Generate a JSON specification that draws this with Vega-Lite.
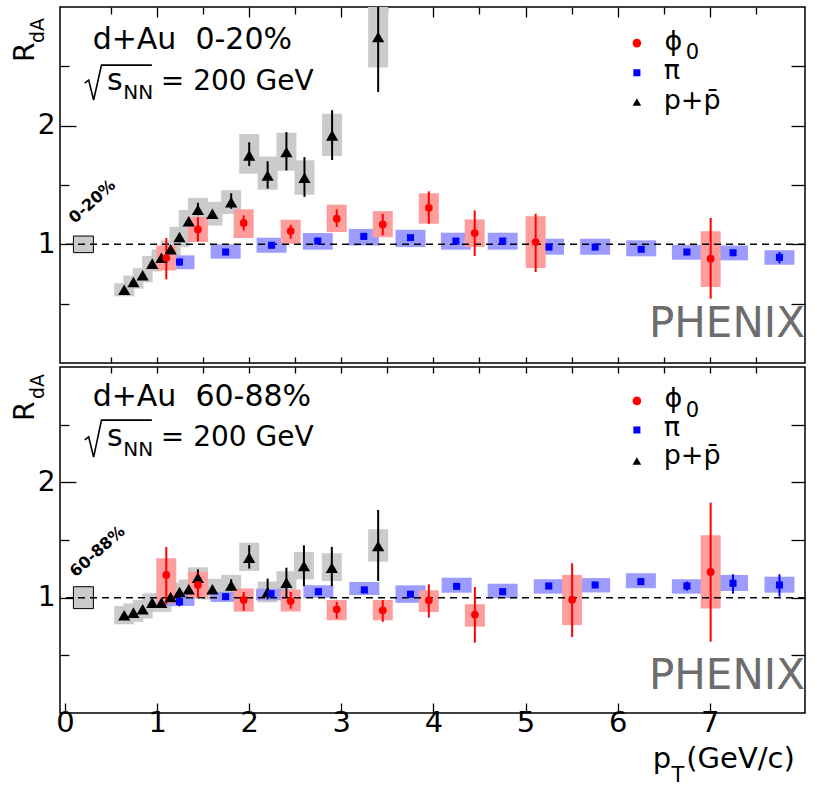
{
 "$schema": "https://vega.github.io/schema/vega-lite/v6.json",
 "padding": {"left": 11, "top": 5, "right": 6, "bottom": 2},
 "spacing": 0,
 "config": {
  "font": "DejaVu Sans",
  "view": {"stroke": "#000", "strokeWidth": 1.5},
  "axis": {"grid": false, "domain": false, "tickColor": "#000", "tickWidth": 1.3, "labelColor": "#000", "labelFont": "DejaVu Sans", "labelFontSize": 28, "title": null, "labelOverlap": false, "labelFlush": false}
 },
 "datasets": {
  "pts": [
   {"panel":"top","species":"ppbar","pt":0.643,"r":0.617,"stat_lo":0.605,"stat_hi":0.63,"sys_lo":0.562,"sys_hi":0.672},
   {"panel":"top","species":"ppbar","pt":0.743,"r":0.682,"stat_lo":0.67,"stat_hi":0.695,"sys_lo":0.627,"sys_hi":0.737},
   {"panel":"top","species":"ppbar","pt":0.843,"r":0.739,"stat_lo":0.727,"stat_hi":0.752,"sys_lo":0.679,"sys_hi":0.799},
   {"panel":"top","species":"ppbar","pt":0.947,"r":0.837,"stat_lo":0.825,"stat_hi":0.85,"sys_lo":0.772,"sys_hi":0.902},
   {"panel":"top","species":"ppbar","pt":1.047,"r":0.887,"stat_lo":0.873,"stat_hi":0.9,"sys_lo":0.817,"sys_hi":0.957},
   {"panel":"top","species":"ppbar","pt":1.147,"r":0.958,"stat_lo":0.944,"stat_hi":0.972,"sys_lo":0.883,"sys_hi":1.033},
   {"panel":"top","species":"ppbar","pt":1.243,"r":1.062,"stat_lo":1.046,"stat_hi":1.078,"sys_lo":0.977,"sys_hi":1.147},
   {"panel":"top","species":"ppbar","pt":1.343,"r":1.194,"stat_lo":1.176,"stat_hi":1.212,"sys_lo":1.099,"sys_hi":1.289},
   {"panel":"top","species":"ppbar","pt":1.443,"r":1.292,"stat_lo":1.245,"stat_hi":1.35,"sys_lo":1.192,"sys_hi":1.392},
   {"panel":"top","species":"ppbar","pt":1.6,"r":1.258,"stat_lo":1.235,"stat_hi":1.28,"sys_lo":1.158,"sys_hi":1.358},
   {"panel":"top","species":"ppbar","pt":1.804,"r":1.356,"stat_lo":1.3,"stat_hi":1.43,"sys_lo":1.256,"sys_hi":1.456},
   {"panel":"top","species":"ppbar","pt":2.0,"r":1.75,"stat_lo":1.66,"stat_hi":1.86,"sys_lo":1.595,"sys_hi":1.93},
   {"panel":"top","species":"ppbar","pt":2.2,"r":1.58,"stat_lo":1.47,"stat_hi":1.7,"sys_lo":1.46,"sys_hi":1.74},
   {"panel":"top","species":"ppbar","pt":2.404,"r":1.778,"stat_lo":1.623,"stat_hi":1.946,"sys_lo":1.62,"sys_hi":1.94},
   {"panel":"top","species":"ppbar","pt":2.6,"r":1.561,"stat_lo":1.4,"stat_hi":1.735,"sys_lo":1.418,"sys_hi":1.708},
   {"panel":"top","species":"ppbar","pt":2.9,"r":1.918,"stat_lo":1.71,"stat_hi":2.13,"sys_lo":1.744,"sys_hi":2.1},
   {"panel":"top","species":"ppbar","pt":3.4,"r":2.747,"stat_lo":2.283,"stat_hi":3.0,"sys_lo":2.49,"sys_hi":3.0},
   {"panel":"top","species":"pi0","pt":1.243,"r":0.851,"stat_lo":0.82,"stat_hi":0.88,"sys_lo":0.79,"sys_hi":0.907},
   {"panel":"top","species":"pi0","pt":1.744,"r":0.935,"stat_lo":0.92,"stat_hi":0.95,"sys_lo":0.879,"sys_hi":1.0},
   {"panel":"top","species":"pi0","pt":2.243,"r":0.992,"stat_lo":0.98,"stat_hi":1.005,"sys_lo":0.929,"sys_hi":1.056},
   {"panel":"top","species":"pi0","pt":2.744,"r":1.028,"stat_lo":1.015,"stat_hi":1.04,"sys_lo":0.955,"sys_hi":1.095},
   {"panel":"top","species":"pi0","pt":3.244,"r":1.067,"stat_lo":1.055,"stat_hi":1.08,"sys_lo":0.99,"sys_hi":1.13},
   {"panel":"top","species":"pi0","pt":3.751,"r":1.056,"stat_lo":1.044,"stat_hi":1.068,"sys_lo":0.977,"sys_hi":1.123},
   {"panel":"top","species":"pi0","pt":4.244,"r":1.028,"stat_lo":1.016,"stat_hi":1.04,"sys_lo":0.955,"sys_hi":1.098},
   {"panel":"top","species":"pi0","pt":4.752,"r":1.028,"stat_lo":1.016,"stat_hi":1.04,"sys_lo":0.955,"sys_hi":1.098},
   {"panel":"top","species":"pi0","pt":5.255,"r":0.977,"stat_lo":0.963,"stat_hi":0.99,"sys_lo":0.912,"sys_hi":1.047},
   {"panel":"top","species":"pi0","pt":5.756,"r":0.977,"stat_lo":0.963,"stat_hi":0.992,"sys_lo":0.912,"sys_hi":1.047},
   {"panel":"top","species":"pi0","pt":6.256,"r":0.958,"stat_lo":0.943,"stat_hi":0.973,"sys_lo":0.899,"sys_hi":1.034},
   {"panel":"top","species":"pi0","pt":6.752,"r":0.935,"stat_lo":0.915,"stat_hi":0.955,"sys_lo":0.87,"sys_hi":0.995},
   {"panel":"top","species":"pi0","pt":7.253,"r":0.929,"stat_lo":0.905,"stat_hi":0.953,"sys_lo":0.865,"sys_hi":0.99},
   {"panel":"top","species":"pi0","pt":7.757,"r":0.89,"stat_lo":0.84,"stat_hi":0.935,"sys_lo":0.828,"sys_hi":0.95},
   {"panel":"top","species":"phi","pt":1.1,"r":0.885,"stat_lo":0.705,"stat_hi":1.053,"sys_lo":0.78,"sys_hi":0.99},
   {"panel":"top","species":"phi","pt":1.443,"r":1.126,"stat_lo":1.025,"stat_hi":1.23,"sys_lo":1.02,"sys_hi":1.23},
   {"panel":"top","species":"phi","pt":1.94,"r":1.18,"stat_lo":1.118,"stat_hi":1.244,"sys_lo":1.053,"sys_hi":1.295},
   {"panel":"top","species":"phi","pt":2.45,"r":1.112,"stat_lo":1.047,"stat_hi":1.165,"sys_lo":1.005,"sys_hi":1.207},
   {"panel":"top","species":"phi","pt":2.95,"r":1.216,"stat_lo":1.146,"stat_hi":1.295,"sys_lo":1.104,"sys_hi":1.334},
   {"panel":"top","species":"phi","pt":3.45,"r":1.168,"stat_lo":1.076,"stat_hi":1.258,"sys_lo":1.06,"sys_hi":1.28},
   {"panel":"top","species":"phi","pt":3.95,"r":1.308,"stat_lo":1.174,"stat_hi":1.447,"sys_lo":1.174,"sys_hi":1.43},
   {"panel":"top","species":"phi","pt":4.448,"r":1.095,"stat_lo":0.901,"stat_hi":1.286,"sys_lo":0.977,"sys_hi":1.21},
   {"panel":"top","species":"phi","pt":5.11,"r":1.019,"stat_lo":0.767,"stat_hi":1.258,"sys_lo":0.8,"sys_hi":1.236},
   {"panel":"top","species":"phi","pt":7.01,"r":0.879,"stat_lo":0.542,"stat_hi":1.222,"sys_lo":0.64,"sys_hi":1.11},
   {"panel":"bot","species":"ppbar","pt":0.643,"r":0.847,"stat_lo":0.835,"stat_hi":0.86,"sys_lo":0.769,"sys_hi":0.928},
   {"panel":"bot","species":"ppbar","pt":0.743,"r":0.87,"stat_lo":0.858,"stat_hi":0.882,"sys_lo":0.79,"sys_hi":0.95},
   {"panel":"bot","species":"ppbar","pt":0.843,"r":0.899,"stat_lo":0.887,"stat_hi":0.911,"sys_lo":0.819,"sys_hi":0.979},
   {"panel":"bot","species":"ppbar","pt":0.947,"r":0.957,"stat_lo":0.945,"stat_hi":0.969,"sys_lo":0.877,"sys_hi":1.037},
   {"panel":"bot","species":"ppbar","pt":1.047,"r":0.957,"stat_lo":0.945,"stat_hi":0.969,"sys_lo":0.877,"sys_hi":1.037},
   {"panel":"bot","species":"ppbar","pt":1.147,"r":1.006,"stat_lo":0.994,"stat_hi":1.018,"sys_lo":0.926,"sys_hi":1.086},
   {"panel":"bot","species":"ppbar","pt":1.243,"r":1.049,"stat_lo":1.035,"stat_hi":1.063,"sys_lo":0.969,"sys_hi":1.129},
   {"panel":"bot","species":"ppbar","pt":1.343,"r":1.073,"stat_lo":1.058,"stat_hi":1.088,"sys_lo":0.988,"sys_hi":1.158},
   {"panel":"bot","species":"ppbar","pt":1.443,"r":1.173,"stat_lo":1.116,"stat_hi":1.246,"sys_lo":1.083,"sys_hi":1.263},
   {"panel":"bot","species":"ppbar","pt":1.6,"r":1.073,"stat_lo":1.055,"stat_hi":1.09,"sys_lo":0.983,"sys_hi":1.163},
   {"panel":"bot","species":"ppbar","pt":1.804,"r":1.107,"stat_lo":1.06,"stat_hi":1.16,"sys_lo":1.017,"sys_hi":1.197},
   {"panel":"bot","species":"ppbar","pt":2.0,"r":1.347,"stat_lo":1.252,"stat_hi":1.454,"sys_lo":1.232,"sys_hi":1.477},
   {"panel":"bot","species":"ppbar","pt":2.2,"r":1.049,"stat_lo":0.986,"stat_hi":1.165,"sys_lo":0.96,"sys_hi":1.14},
   {"panel":"bot","species":"ppbar","pt":2.404,"r":1.13,"stat_lo":1.0,"stat_hi":1.26,"sys_lo":1.03,"sys_hi":1.23},
   {"panel":"bot","species":"ppbar","pt":2.594,"r":1.275,"stat_lo":1.101,"stat_hi":1.454,"sys_lo":1.159,"sys_hi":1.396},
   {"panel":"bot","species":"ppbar","pt":2.897,"r":1.26,"stat_lo":1.1,"stat_hi":1.44,"sys_lo":1.145,"sys_hi":1.385},
   {"panel":"bot","species":"ppbar","pt":3.4,"r":1.448,"stat_lo":1.145,"stat_hi":1.76,"sys_lo":1.312,"sys_hi":1.593},
   {"panel":"bot","species":"pi0","pt":1.243,"r":0.965,"stat_lo":0.925,"stat_hi":1.005,"sys_lo":0.928,"sys_hi":1.035},
   {"panel":"bot","species":"pi0","pt":1.744,"r":1.009,"stat_lo":0.995,"stat_hi":1.023,"sys_lo":0.963,"sys_hi":1.05},
   {"panel":"bot","species":"pi0","pt":2.237,"r":1.035,"stat_lo":1.02,"stat_hi":1.05,"sys_lo":0.977,"sys_hi":1.078},
   {"panel":"bot","species":"pi0","pt":2.751,"r":1.052,"stat_lo":1.04,"stat_hi":1.065,"sys_lo":1.0,"sys_hi":1.107},
   {"panel":"bot","species":"pi0","pt":3.25,"r":1.067,"stat_lo":1.04,"stat_hi":1.095,"sys_lo":1.023,"sys_hi":1.136},
   {"panel":"bot","species":"pi0","pt":3.751,"r":1.03,"stat_lo":1.018,"stat_hi":1.042,"sys_lo":0.955,"sys_hi":1.107},
   {"panel":"bot","species":"pi0","pt":4.252,"r":1.098,"stat_lo":1.085,"stat_hi":1.11,"sys_lo":1.043,"sys_hi":1.173},
   {"panel":"bot","species":"pi0","pt":4.752,"r":1.052,"stat_lo":1.04,"stat_hi":1.065,"sys_lo":0.995,"sys_hi":1.121},
   {"panel":"bot","species":"pi0","pt":5.252,"r":1.101,"stat_lo":1.088,"stat_hi":1.114,"sys_lo":1.035,"sys_hi":1.16},
   {"panel":"bot","species":"pi0","pt":5.756,"r":1.11,"stat_lo":1.095,"stat_hi":1.125,"sys_lo":1.045,"sys_hi":1.17},
   {"panel":"bot","species":"pi0","pt":6.252,"r":1.139,"stat_lo":1.11,"stat_hi":1.17,"sys_lo":1.082,"sys_hi":1.212},
   {"panel":"bot","species":"pi0","pt":6.752,"r":1.101,"stat_lo":1.06,"stat_hi":1.14,"sys_lo":1.035,"sys_hi":1.16},
   {"panel":"bot","species":"pi0","pt":7.253,"r":1.125,"stat_lo":1.035,"stat_hi":1.203,"sys_lo":1.058,"sys_hi":1.197},
   {"panel":"bot","species":"pi0","pt":7.757,"r":1.11,"stat_lo":1.009,"stat_hi":1.203,"sys_lo":1.043,"sys_hi":1.182},
   {"panel":"bot","species":"phi","pt":1.1,"r":1.197,"stat_lo":0.943,"stat_hi":1.44,"sys_lo":0.951,"sys_hi":1.342},
   {"panel":"bot","species":"phi","pt":1.443,"r":1.11,"stat_lo":1.0,"stat_hi":1.217,"sys_lo":1.0,"sys_hi":1.223},
   {"panel":"bot","species":"phi","pt":1.94,"r":0.98,"stat_lo":0.885,"stat_hi":1.049,"sys_lo":0.879,"sys_hi":1.08},
   {"panel":"bot","species":"phi","pt":2.45,"r":0.971,"stat_lo":0.905,"stat_hi":1.049,"sys_lo":0.88,"sys_hi":1.07},
   {"panel":"bot","species":"phi","pt":2.95,"r":0.899,"stat_lo":0.818,"stat_hi":0.963,"sys_lo":0.804,"sys_hi":0.98},
   {"panel":"bot","species":"phi","pt":3.45,"r":0.89,"stat_lo":0.79,"stat_hi":0.98,"sys_lo":0.804,"sys_hi":0.98},
   {"panel":"bot","species":"phi","pt":3.95,"r":0.977,"stat_lo":0.827,"stat_hi":1.116,"sys_lo":0.876,"sys_hi":1.064},
   {"panel":"bot","species":"phi","pt":4.45,"r":0.853,"stat_lo":0.61,"stat_hi":1.093,"sys_lo":0.749,"sys_hi":0.943},
   {"panel":"bot","species":"phi","pt":5.506,"r":0.983,"stat_lo":0.659,"stat_hi":1.298,"sys_lo":0.763,"sys_hi":1.197},
   {"panel":"bot","species":"phi","pt":7.01,"r":1.223,"stat_lo":0.618,"stat_hi":1.824,"sys_lo":0.905,"sys_hi":1.541}
  ],
  "norm": [
   {"panel":"top","lo":0.93,"hi":1.07},
   {"panel":"bot","lo":0.905,"hi":1.095}
  ],
  "leg": [
   {"panel":"top","species":"phi","x":6.209,"y":2.696},
   {"panel":"top","species":"pi0","x":6.209,"y":2.446},
   {"panel":"top","species":"ppbar","x":6.209,"y":2.199},
   {"panel":"bot","species":"phi","x":6.209,"y":2.706},
   {"panel":"bot","species":"pi0","x":6.209,"y":2.454},
   {"panel":"bot","species":"ppbar","x":6.209,"y":2.186}
  ],
  "radical": [
   {"panel":"top","i":1,"x":0.214,"y":2.359},
   {"panel":"top","i":2,"x":0.257,"y":2.384},
   {"panel":"top","i":3,"x":0.311,"y":2.216},
   {"panel":"top","i":4,"x":0.396,"y":2.51},
   {"panel":"top","i":5,"x":0.943,"y":2.51},
   {"panel":"bot","i":1,"x":0.214,"y":2.368},
   {"panel":"bot","i":2,"x":0.257,"y":2.394},
   {"panel":"bot","i":3,"x":0.311,"y":2.219},
   {"panel":"bot","i":4,"x":0.396,"y":2.539},
   {"panel":"bot","i":5,"x":0.943,"y":2.539}
  ],
  "txt": [
   {"panel":"top","role":"big","x":0.3,"y":2.645,"label":"d+Au\u00a0\u00a00-20%"},
   {"panel":"top","role":"s","x":0.455,"y":2.3,"label":"s"},
   {"panel":"top","role":"sub","x":0.632,"y":2.224,"label":"NN"},
   {"panel":"top","role":"mid","x":1.04,"y":2.3,"label":"= 200 GeV"},
   {"panel":"top","role":"leg","x":6.51,"y":2.637,"label":"ϕ"},
   {"panel":"top","role":"sup","x":6.74,"y":2.56,"label":"0"},
   {"panel":"top","role":"leg","x":6.5,"y":2.39,"label":"π"},
   {"panel":"top","role":"leg","x":6.5,"y":2.137,"label":"p+p̄"},
   {"panel":"bot","role":"big","x":0.3,"y":2.662,"label":"d+Au\u00a0\u00a060-88%"},
   {"panel":"bot","role":"s","x":0.455,"y":2.316,"label":"s"},
   {"panel":"bot","role":"sub","x":0.632,"y":2.229,"label":"NN"},
   {"panel":"bot","role":"mid","x":1.04,"y":2.316,"label":"= 200 GeV"},
   {"panel":"bot","role":"leg","x":6.51,"y":2.65,"label":"ϕ"},
   {"panel":"bot","role":"sup","x":6.74,"y":2.568,"label":"0"},
   {"panel":"bot","role":"leg","x":6.5,"y":2.402,"label":"π"},
   {"panel":"bot","role":"leg","x":6.5,"y":2.157,"label":"p+p̄"},
   {"panel":"bot","role":"axis","x":6.38,"y":-0.477,"label":"p"},
   {"panel":"bot","role":"axsub","x":6.585,"y":-0.6,"label":"T"},
   {"panel":"bot","role":"axis","x":6.745,"y":-0.477,"label":"(GeV/c)"}
  ],
  "phenix": [
   {"panel":"top","x":6.34,"y":0.219,"label":"PHENIX"},
   {"panel":"bot","x":6.34,"y":0.206,"label":"PHENIX"}
  ],
  "cent": [
   {"panel":"top","x":0.107,"y":1.171,"label":"0-20%"},
   {"panel":"bot","x":0.118,"y":1.173,"label":"60-88%"}
  ],
  "ylab": [
   {"panel":"top","role":"R","x":-0.332,"y":2.536,"label":"R"},
   {"panel":"top","role":"dA","x":-0.225,"y":2.696,"label":"dA"},
   {"panel":"bot","role":"R","x":-0.332,"y":2.532,"label":"R"},
   {"panel":"bot","role":"dA","x":-0.225,"y":2.723,"label":"dA"}
  ]
 },
 "vconcat": [
  {
   "width": 745, "height": 356,
   "resolve": {"axis": {"x": "independent", "y": "independent"}},
   "layer": [
    {
     "data": {"name": "pts"},
     "transform": [{"filter": "datum.panel === 'top'"}],
     "mark": {"type": "bar"},
     "encoding": {
      "x": {"field": "pt", "type": "quantitative", "scale": {"domain": [0, 7.98], "nice": false, "zero": false},
            "axis": {"orient": "bottom", "values": [0.5,1,1.5,2,2.5,3,3.5,4,4.5,5,5.5,6,6.5,7,7.5], "labels": false, "tickSize": -6}},
      "y": {"field": "sys_lo", "type": "quantitative", "scale": {"domain": [0, 3], "nice": false, "zero": false},
            "axis": {"orient": "left", "values": [0.5,1,1.5,2,2.5], "labelExpr": "datum.value == 1 ? '1' : (datum.value == 2 ? '2' : '')", "tickSize": {"condition": {"test": "datum.value % 1 == 0", "value": -16}, "value": -9}, "labelPadding": 21}},
      "y2": {"field": "sys_hi"},
      "fill": {"field": "species", "type": "nominal", "scale": {"domain": ["phi","pi0","ppbar"], "range": ["#ff9c9c","#9c9cff","#cbcbcb"]}, "legend": null},
      "size": {"condition": {"test": "datum.species === 'pi0'", "value": 30}, "value": 20}
     }
    },
    {
     "data": {"name": "norm"},
     "transform": [{"filter": "datum.panel === 'top'"}],
     "mark": {"type": "bar", "width": 20, "fill": "#cbcbcb", "stroke": "#000", "strokeWidth": 1},
     "encoding": {
      "x": {"datum": 0.2, "type": "quantitative", "axis": null},
      "y": {"field": "lo", "type": "quantitative", "axis": null},
      "y2": {"field": "hi"}
     }
    },
    {
     "data": {"values": [{}]},
     "mark": {"type": "rule", "strokeDash": [7, 5], "color": "#000", "strokeWidth": 1.5},
     "encoding": {"y": {"datum": 1, "type": "quantitative", "axis": null}}
    },
    {
     "data": {"name": "pts"},
     "transform": [{"filter": "datum.panel === 'top'"}],
     "mark": {"type": "rule", "strokeWidth": 2},
     "encoding": {
      "x": {"field": "pt", "type": "quantitative", "axis": {"orient": "top", "values": [0.5,1,1.5,2,2.5,3,3.5,4,4.5,5,5.5,6,6.5,7,7.5], "labels": false, "tickSize": {"condition": {"test": "datum.value % 1 == 0", "value": -10}, "value": -7}}},
      "y": {"field": "stat_lo", "type": "quantitative", "axis": {"orient": "right", "values": [0.5,1,1.5,2,2.5], "labels": false, "tickSize": -14}},
      "y2": {"field": "stat_hi"},
      "color": {"field": "species", "type": "nominal", "scale": {"domain": ["phi","pi0","ppbar"], "range": ["#ff0000","#0000ff","#000000"]}, "legend": null}
     }
    },
    {
     "data": {"name": "pts"},
     "transform": [{"filter": "datum.panel === 'top'"}],
     "mark": {"type": "point", "filled": true, "opacity": 1},
     "encoding": {
      "x": {"field": "pt", "type": "quantitative", "axis": null},
      "y": {"field": "r", "type": "quantitative", "axis": null},
      "color": {"field": "species", "type": "nominal", "legend": null},
      "shape": {"field": "species", "type": "nominal", "scale": {"domain": ["phi","pi0","ppbar"], "range": ["circle","square","triangle-up"]}, "legend": null},
      "size": {"condition": [{"test": "datum.species === 'phi'", "value": 60}, {"test": "datum.species === 'ppbar'", "value": 150}], "value": 50}
     }
    },
    {
     "data": {"name": "leg"},
     "transform": [{"filter": "datum.panel === 'top'"}],
     "mark": {"type": "point", "filled": true, "opacity": 1},
     "encoding": {
      "x": {"field": "x", "type": "quantitative", "axis": null},
      "y": {"field": "y", "type": "quantitative", "axis": null},
      "color": {"field": "species", "type": "nominal", "legend": null},
      "shape": {"field": "species", "type": "nominal", "legend": null},
      "size": {"condition": [{"test": "datum.species === 'phi'", "value": 75}, {"test": "datum.species === 'ppbar'", "value": 75}], "value": 50}
     }
    },
    {
     "data": {"name": "radical"},
     "transform": [{"filter": "datum.panel === 'top'"}],
     "mark": {"type": "line", "color": "#000", "strokeWidth": 1.6},
     "encoding": {
      "x": {"field": "x", "type": "quantitative", "axis": null},
      "y": {"field": "y", "type": "quantitative", "axis": null},
      "order": {"field": "i"}
     }
    },
    {
     "data": {"name": "txt"},
     "transform": [{"filter": "datum.panel === 'top'"}],
     "mark": {"type": "text", "align": "left", "baseline": "alphabetic", "color": "#000"},
     "encoding": {
      "x": {"field": "x", "type": "quantitative", "axis": null},
      "y": {"field": "y", "type": "quantitative", "axis": null},
      "text": {"field": "label"},
      "size": {"condition": [
        {"test": "datum.role === 'big'", "value": 30},
        {"test": "datum.role === 'mid'", "value": 28},
        {"test": "datum.role === 's'", "value": 30},
        {"test": "datum.role === 'sub'", "value": 20},
        {"test": "datum.role === 'sup'", "value": 21},
        {"test": "datum.role === 'axis'", "value": 29},
        {"test": "datum.role === 'axsub'", "value": 21}
       ], "value": 27}
     }
    },
    {
     "data": {"name": "phenix"},
     "transform": [{"filter": "datum.panel === 'top'"}],
     "mark": {"type": "text", "align": "left", "baseline": "alphabetic", "color": "#6d6d6d", "fontSize": 42},
     "encoding": {
      "x": {"field": "x", "type": "quantitative", "axis": null},
      "y": {"field": "y", "type": "quantitative", "axis": null},
      "text": {"field": "label"}
     }
    },
    {
     "data": {"name": "cent"},
     "transform": [{"filter": "datum.panel === 'top'"}],
     "mark": {"type": "text", "align": "left", "baseline": "alphabetic", "color": "#000", "fontSize": 16, "fontWeight": "bold", "angle": 318},
     "encoding": {
      "x": {"field": "x", "type": "quantitative", "axis": null},
      "y": {"field": "y", "type": "quantitative", "axis": null},
      "text": {"field": "label"}
     }
    },
    {
     "data": {"name": "ylab"},
     "transform": [{"filter": "datum.panel === 'top'"}],
     "mark": {"type": "text", "align": "left", "baseline": "alphabetic", "color": "#000", "angle": 270},
     "encoding": {
      "x": {"field": "x", "type": "quantitative", "axis": null},
      "y": {"field": "y", "type": "quantitative", "axis": null},
      "text": {"field": "label"},
      "size": {"condition": {"test": "datum.role === 'R'", "value": 28}, "value": 19}
     }
    }
   ]
  },
  {
   "width": 745, "height": 346,
   "resolve": {"axis": {"x": "independent", "y": "independent"}},
   "layer": [
    {
     "data": {"name": "pts"},
     "transform": [{"filter": "datum.panel === 'bot'"}],
     "mark": {"type": "bar"},
     "encoding": {
      "x": {"field": "pt", "type": "quantitative", "scale": {"domain": [0, 7.98], "nice": false, "zero": false},
            "axis": {"orient": "bottom", "values": [0,0.5,1,1.5,2,2.5,3,3.5,4,4.5,5,5.5,6,6.5,7,7.5], "format": "d", "labelFontSize": 29, "labelExpr": "datum.value % 1 == 0 ? datum.label : ''", "tickSize": {"condition": {"test": "datum.value % 1 == 0", "value": -10}, "value": -6}, "labelPadding": 5}},
      "y": {"field": "sys_lo", "type": "quantitative", "scale": {"domain": [0, 3], "nice": false, "zero": false},
            "axis": {"orient": "left", "values": [0.5,1,1.5,2,2.5], "labelExpr": "datum.value == 1 ? '1' : (datum.value == 2 ? '2' : '')", "tickSize": {"condition": {"test": "datum.value % 1 == 0", "value": -16}, "value": -9}, "labelPadding": 21}},
      "y2": {"field": "sys_hi"},
      "fill": {"field": "species", "type": "nominal", "scale": {"domain": ["phi","pi0","ppbar"], "range": ["#ff9c9c","#9c9cff","#cbcbcb"]}, "legend": null},
      "size": {"condition": {"test": "datum.species === 'pi0'", "value": 30}, "value": 20}
     }
    },
    {
     "data": {"name": "norm"},
     "transform": [{"filter": "datum.panel === 'bot'"}],
     "mark": {"type": "bar", "width": 20, "fill": "#cbcbcb", "stroke": "#000", "strokeWidth": 1},
     "encoding": {
      "x": {"datum": 0.2, "type": "quantitative", "axis": null},
      "y": {"field": "lo", "type": "quantitative", "axis": null},
      "y2": {"field": "hi"}
     }
    },
    {
     "data": {"values": [{}]},
     "mark": {"type": "rule", "strokeDash": [7, 5], "color": "#000", "strokeWidth": 1.5},
     "encoding": {"y": {"datum": 1, "type": "quantitative", "axis": null}}
    },
    {
     "data": {"name": "pts"},
     "transform": [{"filter": "datum.panel === 'bot'"}],
     "mark": {"type": "rule", "strokeWidth": 2},
     "encoding": {
      "x": {"field": "pt", "type": "quantitative", "axis": {"orient": "top", "values": [0.5,1,1.5,2,2.5,3,3.5,4,4.5,5,5.5,6,6.5,7,7.5], "labels": false, "tickSize": -6}},
      "y": {"field": "stat_lo", "type": "quantitative", "axis": {"orient": "right", "values": [0.5,1,1.5,2,2.5], "labels": false, "tickSize": -14}},
      "y2": {"field": "stat_hi"},
      "color": {"field": "species", "type": "nominal", "scale": {"domain": ["phi","pi0","ppbar"], "range": ["#ff0000","#0000ff","#000000"]}, "legend": null}
     }
    },
    {
     "data": {"name": "pts"},
     "transform": [{"filter": "datum.panel === 'bot'"}],
     "mark": {"type": "point", "filled": true, "opacity": 1},
     "encoding": {
      "x": {"field": "pt", "type": "quantitative", "axis": null},
      "y": {"field": "r", "type": "quantitative", "axis": null},
      "color": {"field": "species", "type": "nominal", "legend": null},
      "shape": {"field": "species", "type": "nominal", "scale": {"domain": ["phi","pi0","ppbar"], "range": ["circle","square","triangle-up"]}, "legend": null},
      "size": {"condition": [{"test": "datum.species === 'phi'", "value": 60}, {"test": "datum.species === 'ppbar'", "value": 150}], "value": 50}
     }
    },
    {
     "data": {"name": "leg"},
     "transform": [{"filter": "datum.panel === 'bot'"}],
     "mark": {"type": "point", "filled": true, "opacity": 1},
     "encoding": {
      "x": {"field": "x", "type": "quantitative", "axis": null},
      "y": {"field": "y", "type": "quantitative", "axis": null},
      "color": {"field": "species", "type": "nominal", "legend": null},
      "shape": {"field": "species", "type": "nominal", "legend": null},
      "size": {"condition": [{"test": "datum.species === 'phi'", "value": 75}, {"test": "datum.species === 'ppbar'", "value": 75}], "value": 50}
     }
    },
    {
     "data": {"name": "radical"},
     "transform": [{"filter": "datum.panel === 'bot'"}],
     "mark": {"type": "line", "color": "#000", "strokeWidth": 1.6},
     "encoding": {
      "x": {"field": "x", "type": "quantitative", "axis": null},
      "y": {"field": "y", "type": "quantitative", "axis": null},
      "order": {"field": "i"}
     }
    },
    {
     "data": {"name": "txt"},
     "transform": [{"filter": "datum.panel === 'bot'"}],
     "mark": {"type": "text", "align": "left", "baseline": "alphabetic", "color": "#000"},
     "encoding": {
      "x": {"field": "x", "type": "quantitative", "axis": null},
      "y": {"field": "y", "type": "quantitative", "axis": null},
      "text": {"field": "label"},
      "size": {"condition": [
        {"test": "datum.role === 'big'", "value": 30},
        {"test": "datum.role === 'mid'", "value": 28},
        {"test": "datum.role === 's'", "value": 30},
        {"test": "datum.role === 'sub'", "value": 20},
        {"test": "datum.role === 'sup'", "value": 21},
        {"test": "datum.role === 'axis'", "value": 29},
        {"test": "datum.role === 'axsub'", "value": 21}
       ], "value": 27}
     }
    },
    {
     "data": {"name": "phenix"},
     "transform": [{"filter": "datum.panel === 'bot'"}],
     "mark": {"type": "text", "align": "left", "baseline": "alphabetic", "color": "#6d6d6d", "fontSize": 42},
     "encoding": {
      "x": {"field": "x", "type": "quantitative", "axis": null},
      "y": {"field": "y", "type": "quantitative", "axis": null},
      "text": {"field": "label"}
     }
    },
    {
     "data": {"name": "cent"},
     "transform": [{"filter": "datum.panel === 'bot'"}],
     "mark": {"type": "text", "align": "left", "baseline": "alphabetic", "color": "#000", "fontSize": 16, "fontWeight": "bold", "angle": 318},
     "encoding": {
      "x": {"field": "x", "type": "quantitative", "axis": null},
      "y": {"field": "y", "type": "quantitative", "axis": null},
      "text": {"field": "label"}
     }
    },
    {
     "data": {"name": "ylab"},
     "transform": [{"filter": "datum.panel === 'bot'"}],
     "mark": {"type": "text", "align": "left", "baseline": "alphabetic", "color": "#000", "angle": 270},
     "encoding": {
      "x": {"field": "x", "type": "quantitative", "axis": null},
      "y": {"field": "y", "type": "quantitative", "axis": null},
      "text": {"field": "label"},
      "size": {"condition": {"test": "datum.role === 'R'", "value": 28}, "value": 19}
     }
    }
   ]
  }
 ]
}
